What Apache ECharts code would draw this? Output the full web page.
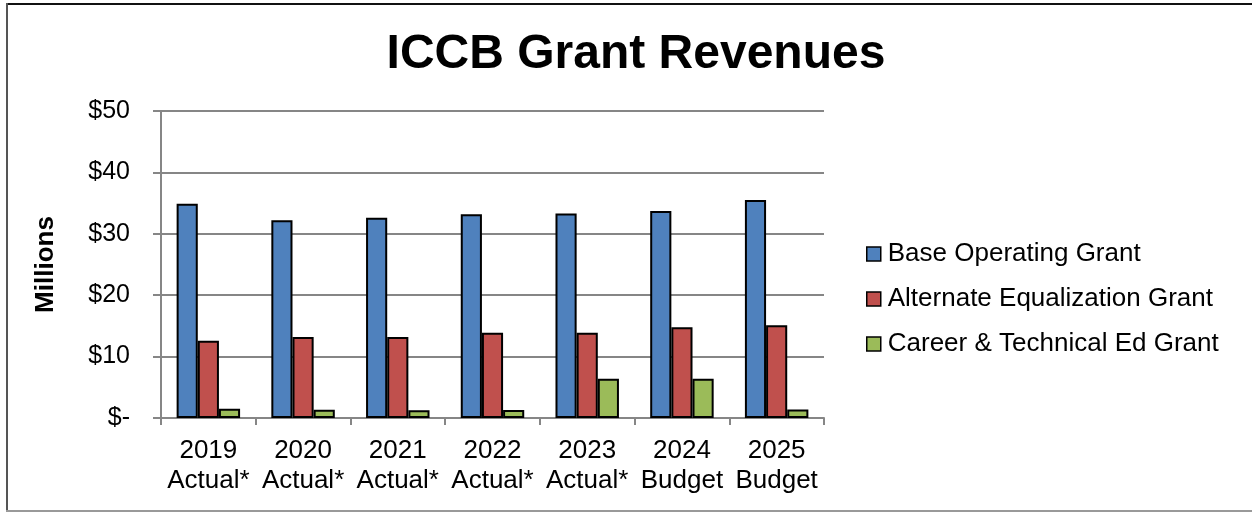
<!DOCTYPE html>
<html>
<head>
<meta charset="utf-8">
<script src="https://cdn.jsdelivr.net/npm/echarts@6/dist/echarts.min.js"></script>
<style>
html,body{margin:0;padding:0;background:#fff;}
#c{width:1252px;height:512px;}
</style>
</head>
<body>
<div id="c"></div>
<script>
const categories = ['2019\nActual*','2020\nActual*','2021\nActual*','2022\nActual*','2023\nActual*','2024\nBudget','2025\nBudget'];
const baseOperating = [34.9, 32.2, 32.6, 33.2, 33.3, 33.7, 35.5];
const alternateEqualization = [12.6, 13.2, 13.2, 13.9, 13.9, 14.8, 15.1];
const careerTechnical = [1.5, 1.35, 1.25, 1.3, 6.4, 6.4, 1.4];
const seriesNames = ['Base Operating Grant','Alternate Equalization Grant','Career & Technical Ed Grant'];
const colors = ['#4F81BD','#C0504D','#9BBB59'];

const chart = echarts.init(document.getElementById('c'));
const font = 'Liberation Sans, Arial, sans-serif';
const barStyle = (c) => ({color: c, borderColor: '#000', borderWidth: 2});
chart.setOption({
  animation: false,
  textStyle: {fontFamily: font},
  title: {
    text: 'ICCB Grant Revenues',
    left: 631, top: 26, textAlign: 'center',
    textStyle: {fontSize: 48, fontWeight: 'bold', color: '#000', fontFamily: font}
  },
  graphic: [
    {type: 'line', shape: {x1: 6, y1: 4, x2: 1252, y2: 4}, style: {stroke: '#111', lineWidth: 2}, silent: true},
    {type: 'line', shape: {x1: 7, y1: 3, x2: 7, y2: 512}, style: {stroke: '#555', lineWidth: 2}, silent: true},
    {type: 'line', shape: {x1: 6, y1: 511, x2: 1252, y2: 511}, style: {stroke: '#999', lineWidth: 2}, silent: true}
  ],
  legend: {
    orient: 'vertical', left: 861, top: 234,
    itemWidth: 14, itemHeight: 14, itemGap: 15,
    icon: 'rect',
    textStyle: {fontSize: 26, color: '#000', fontFamily: font, lineHeight: 30, padding: [0,0,0,2]},
    itemStyle: {borderColor: '#000', borderWidth: 1.5},
    data: seriesNames
  },
  grid: {left: 161, right: 428, top: 111, bottom: 94, containLabel: false},
  xAxis: {
    type: 'category', data: categories,
    axisLine: {lineStyle: {color: '#868686', width: 2}},
    axisTick: {show: true, length: 7, lineStyle: {color: '#868686', width: 2}},
    axisLabel: {fontSize: 26, color: '#000', lineHeight: 30, margin: 18, interval: 0, fontFamily: font}
  },
  yAxis: {
    type: 'value', min: 0, max: 50, interval: 10,
    name: 'Millions', nameLocation: 'middle', nameGap: 102, nameRotate: 90,
    nameTextStyle: {fontSize: 26, fontWeight: 'bold', color: '#000', fontFamily: font},
    axisLine: {show: true, lineStyle: {color: '#868686', width: 2}},
    axisTick: {show: true, length: 8, lineStyle: {color: '#868686', width: 2}},
    splitLine: {lineStyle: {color: '#868686', width: 2}},
    axisLabel: {fontSize: 25, color: '#000', margin: 31, fontFamily: font,
      formatter: v => v === 0 ? '$-' : '$' + v}
  },
  series: [
    {name: seriesNames[0], type: 'bar', data: baseOperating, itemStyle: barStyle(colors[0]), barGap: '0%', barCategoryGap: '33%'},
    {name: seriesNames[1], type: 'bar', data: alternateEqualization, itemStyle: barStyle(colors[1])},
    {name: seriesNames[2], type: 'bar', data: careerTechnical, itemStyle: barStyle(colors[2])}
  ]
});
</script>
</body>
</html>
